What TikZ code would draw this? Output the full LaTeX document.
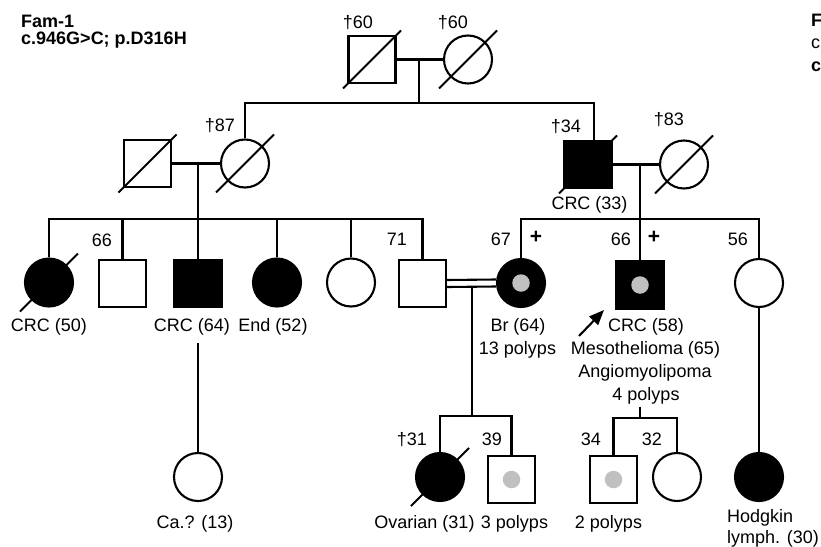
\documentclass[tikz,border=0pt]{standalone}
\usepackage{fontspec}
\setmainfont{Liberation Sans}
\usetikzlibrary{arrows.meta,calc}
\definecolor{dotgray}{RGB}{192,192,192}
\tikzset{
  lw/.style={line width=2.1pt},
  male/.style={rectangle, draw, lw, minimum size=47pt, inner sep=0pt},
  female/.style={circle, draw, lw, minimum size=48pt, inner sep=0pt},
  aff/.style={fill=black},
  gdot/.style={circle, fill=dotgray, minimum size=17.5pt, inner sep=0pt},
  lbl/.style={inner sep=0pt, text height=13pt, text depth=0pt, font=\fontsize{18}{21}\selectfont},
  bold/.style={font=\fontsize{18}{21}\selectfont\bfseries},
  plus/.style={font=\fontsize{21}{24}\selectfont\bfseries},
  link/.style={lw},
}
\newcommand\deadslash[1]{\draw[lw] ([shift={(-29,29)}]#1.center) -- ([shift={(29,-29)}]#1.center);}
\begin{document}
\begin{tikzpicture}[x=1pt,y=-1pt]
\useasboundingbox (0,0) rectangle (821,546);
% header
\node[lbl, bold, anchor=west] (h1) at (21,21) {Fam-1};
\node[lbl, bold, anchor=west] (h2) at (21,37.5) {c.946G>C; p.D316H};
\begin{scope}
\clip (0,0) rectangle (821,546);
\node[lbl, bold, anchor=west] (r1) at (811,20.5) {F};
\node[lbl, anchor=west] (r2) at (811,41.5) {c};
\node[lbl, bold, anchor=west] (r3) at (811,64.5) {c};
\end{scope}
% generation I
\node[male] (I1) at (372,59.5) {};
\node[female] (I2) at (468,59.5) {};
\deadslash{I1}\deadslash{I2}
\node[lbl, anchor=east] (lI1) at (373,22) {†60};
\node[lbl, anchor=east] (lI2) at (468,22) {†60};
% generation II
\node[male] (II1) at (147.5,163.5) {};
\node[female] (II2) at (245,163.5) {};
\node[male, aff] (II3) at (588,164.5) {};
\node[female] (II4) at (684,164.5) {};
\deadslash{II1}\deadslash{II2}\deadslash{II3}\deadslash{II4}
\node[lbl, anchor=east] (lII2) at (235,125) {†87};
\node[lbl, anchor=east] (lII3) at (581,125.5) {†34};
\node[lbl, anchor=east] (lII4) at (684,118.5) {†83};
\node[lbl] (dII3) at (589.5,202.5) {CRC (33)};
% generation III
\node[female, aff] (III1) at (49,282.5) {};
\node[male] (III2) at (122.5,283.5) {};
\node[male, aff] (III3) at (198,283.5) {};
\node[female, aff] (III4) at (277,282.5) {};
\node[female] (III5) at (351,282.5) {};
\node[male] (III6) at (422.5,283.5) {};
\node[female, aff] (III7) at (521,283) {};
\node[male, aff] (III8) at (640,285) {};
\node[female] (III9) at (759,283) {};
\node[gdot] (g7) at (III7.center) {};
\node[gdot] (g8) at (III8.center) {};
\deadslash{III1}
\node[lbl, anchor=east] (lIII2) at (112,239.5) {66};
\node[lbl, anchor=east] (lIII6) at (407,239) {71};
\node[lbl, anchor=east] (lIII7) at (511,239) {67};
\node[lbl, anchor=east] (lIII8) at (631,239) {66};
\node[lbl, anchor=east] (lIII9) at (748,239) {56};
\node[lbl, plus] (p7) at (536,237) {+};
\node[lbl, plus] (p8) at (654,237) {+};
\node[lbl] (dIII1) at (49,325) {CRC (50)};
\node[lbl] (dIII3) at (192,325) {CRC (64)};
\node[lbl] (dIII4) at (273,325) {End (52)};
\node[lbl] (dIII7a) at (518,325) {Br (64)};
\node[lbl] (dIII7b) at (517.5,348) {13 polyps};
\node[lbl] (dIII8a) at (646,325) {CRC (58)};
\node[lbl] (dIII8b) at (645.5,348) {Mesothelioma (65)};
\node[lbl] (dIII8c) at (645,371) {Angiomyolipoma};
\node[lbl] (dIII8d) at (646,394) {4 polyps};
% generation IV
\node[female] (IV1) at (198,477) {};
\node[female, aff] (IV2) at (440,477) {};
\node[male] (IV3) at (511.5,479.5) {};
\node[male] (IV4) at (613.5,479.5) {};
\node[female] (IV5) at (677,477) {};
\node[female, aff] (IV6) at (759,477) {};
\node[gdot] (g3) at (IV3.center) {};
\node[gdot] (g4) at (IV4.center) {};
\deadslash{IV2}
\node[lbl, anchor=east] (lIV2) at (427,438.5) {†31};
\node[lbl, anchor=east] (lIV3) at (502,438.5) {39};
\node[lbl, anchor=east] (lIV4) at (601,438.5) {34};
\node[lbl, anchor=east] (lIV5) at (662,438.5) {32};
\node[lbl] (dIV1) at (195,521.5) {Ca.? (13)};
\node[lbl] (dIV2) at (424.5,521.5) {Ovarian (31)};
\node[lbl] (dIV3) at (514.5,521.5) {3 polyps};
\node[lbl] (dIV4) at (608.5,521.5) {2 polyps};
\node[lbl, anchor=west] (dIV6a) at (727,516) {Hodgkin};
\node[lbl, anchor=west] (dIV6b) at (727,537) {lymph. (30)};
% connectors
\coordinate (cI) at (419,59.5);
\coordinate (sI) at (419,103);
\coordinate (sIr) at (594,103);
\draw[link] (I1.east) -- (I2.west);
\draw[link] (cI) -- (sI);
\draw[link] (II2.north) |- (sIr) -- (sIr |- II3.north);
\coordinate (cII) at (198,163.5);
\coordinate (sII) at (198,219);
\draw[link] (II1.east) -- (II2.west);
\draw[link] (cII) -- (sII);
\draw[link] (III1.north) -- (III1.north |- sII) -- (III6.north |- sII) -- (III6.north);
\foreach \n in {III2,III3,III4,III5} \draw[link] (\n.north) -- (\n.north |- sII);
\coordinate (cIIr) at (640,164.5);
\coordinate (sIIr) at (640,219);
\draw[link] (II3.east) -- (II4.west);
\draw[link] (cIIr) -- (III8.north);
\draw[link] (III7.north) -- (III7.north |- sIIr) -- (III9.north |- sIIr) -- (III9.north);
% consanguineous couple
\draw[link] ([yshift=3.5pt]III6.east) -- ([yshift=3.5pt]III7.west);
\draw[link] ([yshift=-3.5pt]III6.east) -- ([yshift=-3.5pt]III7.west);
\coordinate (cc) at (472,287);
\coordinate (sIII) at (472,416);
\draw[link] (cc) -- (sIII);
\draw[link] (IV2.north) -- (IV2.north |- sIII) -- (IV3.north |- sIII) -- (IV3.north);
\coordinate (c8) at (640,406.5);
\coordinate (s8) at (640,418);
\draw[link] (c8) -- (s8);
\draw[link] (IV4.north) -- (IV4.north |- s8) -- (IV5.north |- s8) -- (IV5.north);
\coordinate (c3) at (198,343);
\draw[link] (c3) -- (IV1.north);
\draw[link] (III9.south) -- (IV6.north);
% proband arrow
\coordinate (arT) at (579,336);
\coordinate (arH) at (604,310);
\draw[lw, -{Triangle[length=15pt,width=12pt]}] (arT) -- (arH);
\end{tikzpicture}
\end{document}
